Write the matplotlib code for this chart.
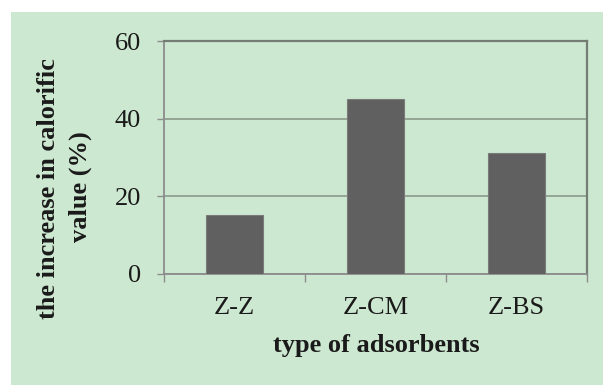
import matplotlib
matplotlib.use("Agg")
import matplotlib.pyplot as plt
from matplotlib.patches import Rectangle

categories = ["Z-Z", "Z-CM", "Z-BS"]
values = [15.2, 45.0, 31.1]
y_ticks = [0, 20, 40, 60]
x_label = "type of adsorbents"
y_label_lines = ["the increase in calorific", "value (%)"]

W, H = 603, 385
DPI = 100
BG = "#cde8d0"
BAR = "#606060"
GRID = "#8f9f91"
FRAME = "#737d74"
TXT = "#1a1a1a"
SERIF = ["Liberation Serif", "DejaVu Serif"]

fig = plt.figure(figsize=(W / DPI, H / DPI), dpi=DPI, facecolor="white")
fig.patches.append(Rectangle((11 / W, 0), 1 - 11 / W, 1 - 12 / H,
                             transform=fig.transFigure, facecolor=BG,
                             edgecolor="none", zorder=-10))

left, right, top, bottom = 164, 587, 41, 274
ax = fig.add_axes([left / W, (H - bottom) / H, (right - left) / W, (bottom - top) / H])
ax.set_zorder(5)
ax.set_facecolor("none")

x = list(range(len(categories)))
ax.bar(x, values, width=0.4, color=BAR, edgecolor="#7a7a7a", linewidth=0.8, zorder=3)

ax.set_xlim(-0.5, len(categories) - 0.5)
ax.set_ylim(y_ticks[0], y_ticks[-1])

# gridlines
ax.set_yticks(y_ticks)
ax.yaxis.grid(True, color=GRID, linewidth=1.3, zorder=1)
ax.set_axisbelow(True)

for s in ["left", "bottom"]:
    ax.spines[s].set_color("#8c8c8c")
    ax.spines[s].set_linewidth(1.3)
for s in ["top", "right"]:
    ax.spines[s].set_color(FRAME)
    ax.spines[s].set_linewidth(1.6)

ax.tick_params(axis="y", direction="out", length=5, width=1.0, color="#8c8c8c",
               pad=11.5, labelsize=19, labelcolor=TXT)
for lab in ax.get_yticklabels():
    lab.set_fontfamily(SERIF)

# x ticks at category boundaries, labels at centers
ax.set_xticks([i - 0.5 for i in range(len(categories) + 1)])
ax.set_xticklabels([])
ax.tick_params(axis="x", which="major", direction="out", length=6, width=1.0, color="#8c8c8c")
ax.set_xticks(x, minor=True)
ax.set_xticklabels(categories, minor=True)
ax.tick_params(axis="x", which="minor", length=0, pad=16.5, labelsize=19, labelcolor=TXT)
for lab in ax.get_xticklabels(minor=True):
    lab.set_fontfamily(SERIF)

fig.text(376 / W, (H - 352) / H, x_label, ha="center", va="baseline",
         fontsize=19, fontweight="bold", family=SERIF, color=TXT)

fig.text(55 / W, (H - 189) / H, y_label_lines[0], rotation=90, rotation_mode="anchor",
         ha="center", va="baseline", fontsize=19, fontweight="bold", family=SERIF, color=TXT)
fig.text(87 / W, (H - 187) / H, y_label_lines[1], rotation=90, rotation_mode="anchor",
         ha="center", va="baseline", fontsize=19, fontweight="bold", family=SERIF, color=TXT)

fig.savefig("out.png", dpi=DPI, facecolor="white")
